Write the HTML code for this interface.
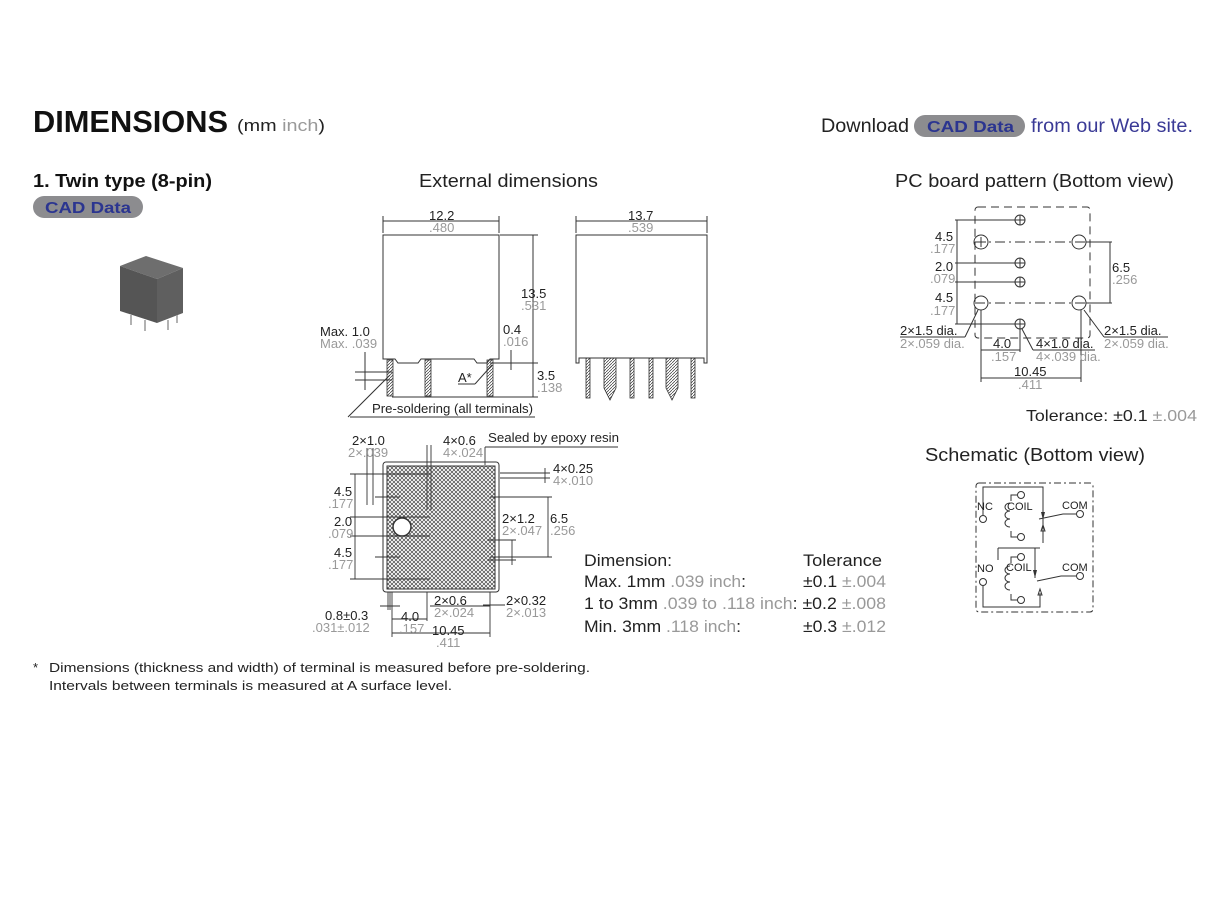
<!DOCTYPE html>
<html><head><meta charset="utf-8"><style>
html,body{margin:0;padding:0;background:#fff;}
svg{display:block;font-family:"Liberation Sans",sans-serif;}
.g{fill:#999}
.k{fill:#222}
.s{font-size:13px}
</style></head><body>
<svg width="1210" height="907" viewBox="0 0 1210 907" xmlns="http://www.w3.org/2000/svg">
<defs>
<pattern id="xh" width="4" height="4" patternUnits="userSpaceOnUse">
<path d="M0 0L4 4M4 0L0 4" stroke="#444" stroke-width="0.7"/>
</pattern>
<pattern id="dh" width="3" height="3" patternUnits="userSpaceOnUse">
<path d="M0 3L3 0" stroke="#333" stroke-width="0.7"/>
</pattern>
</defs>
<!-- header -->
<text x="33" y="132" font-size="31" font-weight="bold" fill="#111" textLength="195" lengthAdjust="spacingAndGlyphs">DIMENSIONS</text>
<text x="237" y="131" font-size="17" fill="#222" textLength="88" lengthAdjust="spacingAndGlyphs">(mm <tspan fill="#999">inch</tspan>)</text>
<text x="821" y="132" font-size="19" fill="#222" textLength="88" lengthAdjust="spacingAndGlyphs">Download</text>
<rect x="914" y="115" width="111" height="22" rx="11" fill="#8c8c8f"/>
<text x="927" y="132" font-size="16" font-weight="bold" fill="#2b3590" textLength="87" lengthAdjust="spacingAndGlyphs">CAD Data</text>
<text x="1031" y="132" font-size="19" fill="#3a3a96" textLength="162" lengthAdjust="spacingAndGlyphs">from our Web site.</text>

<text x="33" y="187" font-size="18" font-weight="bold" fill="#111" textLength="179" lengthAdjust="spacingAndGlyphs">1. Twin type (8-pin)</text>
<rect x="33" y="196" width="110" height="22" rx="11" fill="#8c8c8f"/>
<text x="45" y="213" font-size="16" font-weight="bold" fill="#2b3590" textLength="86" lengthAdjust="spacingAndGlyphs">CAD Data</text>

<!-- relay photo -->
<polygon points="120,266 146,256 183,268 157,279" fill="#6e6e6e"/>
<polygon points="120,266 157,279 157,323 120,311" fill="#555"/>
<polygon points="157,279 183,268 183,313 157,323" fill="#5f5f5f"/>
<g stroke="#999" stroke-width="1.5"><line x1="131" y1="315" x2="131" y2="325"/><line x1="145" y1="320" x2="145" y2="331"/><line x1="168" y1="320" x2="168" y2="330"/><line x1="177" y1="315" x2="177" y2="323"/></g>

<!-- titles -->
<text x="419" y="187" font-size="18" fill="#222" textLength="179" lengthAdjust="spacingAndGlyphs">External dimensions</text>
<text x="895" y="187" font-size="18" fill="#222" textLength="279" lengthAdjust="spacingAndGlyphs">PC board pattern (Bottom view)</text>
<text x="1026" y="421" font-size="16" fill="#222" textLength="171" lengthAdjust="spacingAndGlyphs">Tolerance: ±0.1 <tspan fill="#999">±.004</tspan></text>
<text x="925" y="461" font-size="18" fill="#222" textLength="220" lengthAdjust="spacingAndGlyphs">Schematic (Bottom view)</text>

<!-- external left view -->
<g fill="none" stroke="#333" stroke-width="1">
<path d="M383 235V359H395l3 4h20l3-4H474l3 4h10l3-4H499V235Z"/>
<line x1="383" y1="216" x2="383" y2="233"/><line x1="499" y1="216" x2="499" y2="233"/>
<line x1="383" y1="221" x2="499" y2="221"/>
<line x1="500" y1="235" x2="538" y2="235"/>
<line x1="533" y1="235" x2="533" y2="397"/>
<line x1="490" y1="363" x2="538" y2="363"/>
<line x1="392" y1="397" x2="538" y2="397"/>
<line x1="355" y1="372" x2="392" y2="372"/><line x1="355" y1="380" x2="392" y2="380"/>
<line x1="365" y1="352" x2="365" y2="390"/>
<line x1="511" y1="350" x2="511" y2="370"/>
<line x1="348" y1="417" x2="390" y2="375"/>
<line x1="350" y1="417" x2="535" y2="417"/>
<line x1="458" y1="384" x2="475" y2="384"/><line x1="475" y1="384" x2="492" y2="365"/>
<path d="M576 235V363h3v-5H704v5h3V235Z"/>
<line x1="576" y1="216" x2="576" y2="233"/><line x1="707" y1="216" x2="707" y2="233"/>
<line x1="576" y1="221" x2="707" y2="221"/>
</g>
<g fill="url(#dh)" stroke="#333" stroke-width="0.8">
<rect x="387" y="360" width="6" height="36"/><rect x="425" y="360" width="6" height="36"/><rect x="487" y="360" width="6" height="36"/>
<rect x="586" y="358" width="4" height="40"/><rect x="630" y="358" width="4" height="40"/><rect x="649" y="358" width="4" height="40"/><rect x="691" y="358" width="4" height="40"/>
<path d="M604 358v30l6 12 6-12V358"/><path d="M666 358v30l6 12 6-12V358"/>
</g>
<g class="s">
<text x="429" y="220" class="k">12.2</text><text x="429" y="232" class="g">.480</text>
<text x="628" y="220" class="k">13.7</text><text x="628" y="232" class="g">.539</text>
<text x="521" y="298" class="k">13.5</text><text x="521" y="310" class="g">.531</text>
<text x="320" y="336" class="k">Max. 1.0</text><text x="320" y="348" class="g">Max. .039</text>
<text x="503" y="334" class="k">0.4</text><text x="503" y="346" class="g">.016</text>
<text x="537" y="380" class="k">3.5</text><text x="537" y="392" class="g">.138</text>
<text x="458" y="382" class="k">A*</text>
<text x="372" y="413" class="k" textLength="161" lengthAdjust="spacingAndGlyphs">Pre-soldering (all terminals)</text>
</g>

<!-- bottom view -->
<rect x="383" y="462" width="116" height="130" rx="3" fill="none" stroke="#333"/>
<rect x="387" y="466" width="108" height="123" fill="url(#xh)" stroke="#333"/>
<circle cx="402" cy="527" r="9" fill="#fff" stroke="#333" stroke-width="1.5"/>
<g fill="none" stroke="#333" stroke-width="0.9">
<line x1="355" y1="474" x2="355" y2="579"/>
<line x1="350" y1="474" x2="430" y2="474"/><line x1="350" y1="517" x2="430" y2="517"/><line x1="350" y1="536" x2="430" y2="536"/><line x1="350" y1="579" x2="430" y2="579"/>
<line x1="375" y1="497" x2="400" y2="497"/><line x1="375" y1="557" x2="400" y2="557"/>
<line x1="490" y1="497" x2="552" y2="497"/><line x1="490" y1="557" x2="552" y2="557"/>
<line x1="548" y1="497" x2="548" y2="557"/>
<line x1="500" y1="473" x2="550" y2="473"/><line x1="500" y1="478" x2="550" y2="478"/>
<line x1="545" y1="468" x2="545" y2="483"/>
<line x1="367" y1="448" x2="367" y2="505"/><line x1="373" y1="448" x2="373" y2="505"/>
<line x1="427" y1="445" x2="427" y2="510"/><line x1="431" y1="445" x2="431" y2="510"/>
<line x1="485" y1="447" x2="618" y2="447"/><line x1="485" y1="447" x2="485" y2="465"/>
<line x1="512" y1="540" x2="512" y2="565"/><line x1="488" y1="540" x2="516" y2="540"/><line x1="488" y1="560" x2="516" y2="560"/>
<line x1="388" y1="592" x2="388" y2="610"/><line x1="390" y1="592" x2="390" y2="610"/>
<line x1="380" y1="606" x2="400" y2="606"/>
<line x1="392" y1="592" x2="392" y2="637"/><line x1="490" y1="592" x2="490" y2="637"/>
<line x1="392" y1="633" x2="490" y2="633"/>
<line x1="427" y1="592" x2="427" y2="621"/><line x1="392" y1="619" x2="427" y2="619"/>
<line x1="430" y1="606" x2="490" y2="606"/>
<line x1="483" y1="605" x2="505" y2="605"/>
</g>
<g class="s">
<text x="352" y="445" class="k">2×1.0</text><text x="348" y="457" class="g">2×.039</text>
<text x="443" y="445" class="k">4×0.6</text><text x="443" y="457" class="g">4×.024</text>
<text x="488" y="442" class="k" textLength="131" lengthAdjust="spacingAndGlyphs">Sealed by epoxy resin</text>
<text x="553" y="473" class="k">4×0.25</text><text x="553" y="485" class="g">4×.010</text>
<text x="334" y="496" class="k">4.5</text><text x="328" y="508" class="g">.177</text>
<text x="334" y="526" class="k">2.0</text><text x="328" y="538" class="g">.079</text>
<text x="334" y="557" class="k">4.5</text><text x="328" y="569" class="g">.177</text>
<text x="502" y="523" class="k">2×1.2</text><text x="502" y="535" class="g">2×.047</text>
<text x="550" y="523" class="k">6.5</text><text x="550" y="535" class="g">.256</text>
<text x="434" y="605" class="k">2×0.6</text><text x="434" y="617" class="g">2×.024</text>
<text x="506" y="605" class="k">2×0.32</text><text x="506" y="617" class="g">2×.013</text>
<text x="325" y="620" class="k">0.8±0.3</text><text x="312" y="632" class="g">.031±.012</text>
<text x="401" y="621" class="k">4.0</text><text x="399" y="633" class="g">.157</text>
<text x="432" y="635" class="k">10.45</text><text x="436" y="647" class="g">.411</text>
</g>

<!-- tolerance table -->
<g font-size="17" fill="#222">
<text x="584" y="566" textLength="88" lengthAdjust="spacingAndGlyphs">Dimension:</text><text x="803" y="566" textLength="79" lengthAdjust="spacingAndGlyphs">Tolerance</text>
<text x="584" y="587" textLength="162" lengthAdjust="spacingAndGlyphs">Max. 1mm <tspan fill="#999">.039 inch</tspan>:</text><text x="803" y="587" textLength="83" lengthAdjust="spacingAndGlyphs">±0.1 <tspan fill="#999">±.004</tspan></text>
<text x="584" y="609" textLength="302" lengthAdjust="spacingAndGlyphs">1 to 3mm <tspan fill="#999">.039 to .118 inch</tspan>: ±0.2 <tspan fill="#999">±.008</tspan></text>
<text x="584" y="632" textLength="157" lengthAdjust="spacingAndGlyphs">Min. 3mm <tspan fill="#999">.118 inch</tspan>:</text><text x="803" y="632" textLength="83" lengthAdjust="spacingAndGlyphs">±0.3 <tspan fill="#999">±.012</tspan></text>
</g>

<!-- PC board -->
<g fill="none" stroke="#333" stroke-width="1">
<rect x="975" y="207" width="115" height="131" rx="3" stroke-dasharray="8,5"/>
<line x1="975" y1="242" x2="1090" y2="242" stroke-dasharray="10,4,2,4"/>
<line x1="975" y1="303" x2="1090" y2="303" stroke-dasharray="10,4,2,4"/>
<circle cx="981" cy="242" r="7"/><circle cx="1079" cy="242" r="7"/><circle cx="981" cy="303" r="7"/><circle cx="1079" cy="303" r="7"/>
<circle cx="1020" cy="220" r="5"/><circle cx="1020" cy="263" r="5"/><circle cx="1020" cy="282" r="5"/><circle cx="1020" cy="324" r="5"/>
<path d="M1015 220h10M1020 215v10M1015 263h10M1020 258v10M1015 282h10M1020 277v10M1015 324h10M1020 319v10M976 242h10M981 237v10"/>
<line x1="957" y1="220" x2="957" y2="324"/>
<line x1="955" y1="220" x2="1015" y2="220"/><line x1="955" y1="263" x2="1015" y2="263"/><line x1="955" y1="282" x2="1015" y2="282"/><line x1="955" y1="324" x2="1015" y2="324"/>
<line x1="1086" y1="242" x2="1112" y2="242"/><line x1="1086" y1="303" x2="1112" y2="303"/>
<line x1="1110" y1="242" x2="1110" y2="303"/>
<line x1="981" y1="310" x2="981" y2="382"/><line x1="1081" y1="310" x2="1081" y2="382"/>
<line x1="981" y1="378" x2="1081" y2="378"/>
<line x1="1020" y1="329" x2="1020" y2="352"/><line x1="981" y1="350" x2="1020" y2="350"/>
<line x1="900" y1="337" x2="965" y2="337"/><line x1="965" y1="337" x2="978" y2="310"/>
<line x1="1104" y1="337" x2="1168" y2="337"/><line x1="1104" y1="337" x2="1084" y2="310"/>
<line x1="1033" y1="350" x2="1095" y2="350"/><line x1="1033" y1="350" x2="1022" y2="329"/>
</g>
<g class="s">
<text x="935" y="241" class="k">4.5</text><text x="930" y="253" class="g">.177</text>
<text x="935" y="271" class="k">2.0</text><text x="930" y="283" class="g">.079</text>
<text x="935" y="302" class="k">4.5</text><text x="930" y="315" class="g">.177</text>
<text x="1112" y="272" class="k">6.5</text><text x="1112" y="284" class="g">.256</text>
<text x="900" y="335" class="k">2×1.5 dia.</text><text x="900" y="348" class="g">2×.059 dia.</text>
<text x="1104" y="335" class="k">2×1.5 dia.</text><text x="1104" y="348" class="g">2×.059 dia.</text>
<text x="993" y="348" class="k">4.0</text><text x="991" y="361" class="g">.157</text>
<text x="1036" y="348" class="k">4×1.0 dia.</text><text x="1036" y="361" class="g">4×.039 dia.</text>
<text x="1014" y="376" class="k">10.45</text><text x="1018" y="389" class="g">.411</text>
</g>

<!-- schematic -->
<g fill="none" stroke="#333" stroke-width="1">
<rect x="976" y="483" width="117" height="129" rx="3" stroke-dasharray="7,3,2,3"/>
<path d="M983 515V487H1043v25"/>
<circle cx="983" cy="519" r="3.5"/><circle cx="1021" cy="495" r="3.5"/><circle cx="1021" cy="537" r="3.5"/>
<path d="M1017 495h-6v6M1011 531v6h6"/>
<path d="M1010 503a5 4 0 1 0 0 8a5 4 0 1 0 0 8a5 4 0 1 0 0 8"/>
<path d="M1039 519l24-5h13"/><circle cx="1080" cy="514" r="3.5"/>
<path d="M1043 543v-12"/><path d="M1041 531l2-6 2 6z"/>
<path d="M1043 543v-40"/>
<path d="M1040 548h-42"/>
<circle cx="983" cy="582" r="3.5"/><circle cx="1021" cy="557" r="3.5"/><circle cx="1021" cy="600" r="3.5"/>
<path d="M983 586V607H1040v-14"/>
<path d="M1017 557h-6v6M1011 594v6h6"/>
<path d="M1010 566a5 4 0 1 0 0 8a5 4 0 1 0 0 8a5 4 0 1 0 0 8"/>
<path d="M1035 548v30"/><path d="M1037 581l24-5h15"/><circle cx="1080" cy="576" r="3.5"/>
<path d="M1040 605v-10"/><path d="M1038 595l2-6 2 6z"/>
<path d="M998 548v12"/>
</g>
<path d="M1041 512l2 8 2-8z M1033 570l2 8 2-8z" fill="#333"/>
<g font-size="11" fill="#222">
<text x="977" y="510">NC</text><text x="1007" y="510">COIL</text><text x="1062" y="509">COM</text>
<text x="977" y="572">NO</text><text x="1006" y="571">COIL</text><text x="1062" y="571">COM</text>
</g>

<!-- footnote -->
<g font-size="13" fill="#222">
<text x="33" y="672">*</text>
<text x="49" y="672" textLength="541" lengthAdjust="spacingAndGlyphs">Dimensions (thickness and width) of terminal is measured before pre-soldering.</text>
<text x="49" y="690" textLength="403" lengthAdjust="spacingAndGlyphs">Intervals between terminals is measured at A surface level.</text>
</g>
</svg>
</body></html>
